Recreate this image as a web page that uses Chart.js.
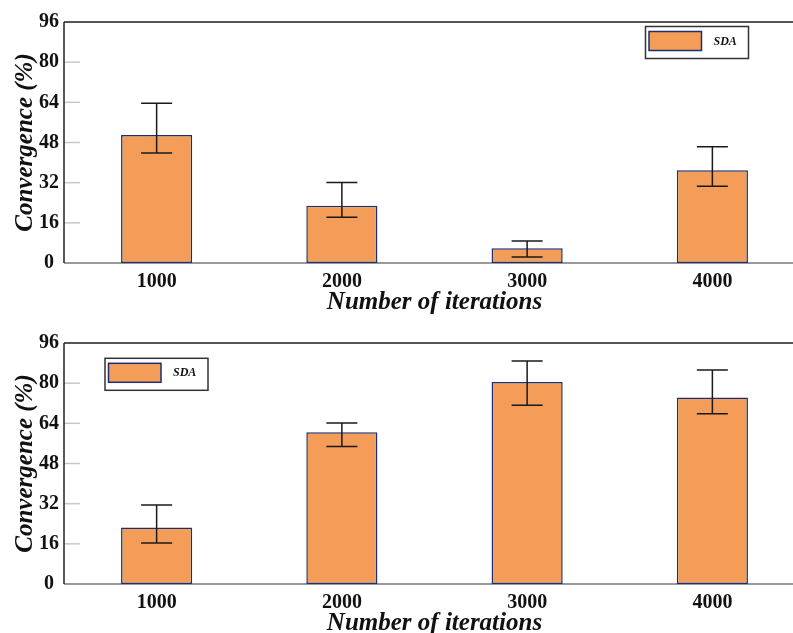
<!DOCTYPE html>
<html>
<head>
<meta charset="utf-8">
<script src="https://cdn.jsdelivr.net/npm/chart.js@4.4.1/dist/chart.umd.min.js"></script>
<style>
  html, body { margin: 0; padding: 0; background: #fff; overflow: hidden; }
  .wrap { position: absolute; left: 0; width: 793px; height: 316px; overflow: hidden; }
  canvas { display: block; }
</style>
</head>
<body>
<div class="wrap" style="top:0"><canvas id="topChart" width="808" height="316"></canvas></div>
<div class="wrap" style="top:321px"><canvas id="bottomChart" width="808" height="316"></canvas></div>
<script>
const iterations = ["1000", "2000", "3000", "4000"];
const yTicks = [0, 16, 32, 48, 64, 80, 96];

// upper panel
const topValues = [51, 22.8, 5.9, 36.9];
const topErrHigh = [63.6, 32.1, 8.8, 46.3];
const topErrLow = [43.8, 18.2, 2.4, 30.6];

// lower panel
const bottomValues = [22.5, 60.4, 80.5, 74.3];
const bottomErrHigh = [31.5, 64.1, 88.8, 85.2];
const bottomErrLow = [16.3, 54.8, 71.2, 67.8];

const serif = "'Liberation Serif', 'Times New Roman', serif";
const barFill = "#f49d58";
const barEdge = "#1c2f6e";

// inner tick marks + frame lines
const framePlugin = {
  id: "frame",
  beforeDatasetsDraw(chart) {
    const ctx = chart.ctx;
    const area = chart.chartArea;
    const yScale = chart.scales.y;
    ctx.save();
    ctx.strokeStyle = "#c8c8c8";
    ctx.lineWidth = 1.5;
    yScale.ticks.forEach(t => {
      if (t.value === 0 || t.value === 96) return;
      const y = yScale.getPixelForValue(t.value);
      ctx.beginPath();
      ctx.moveTo(area.left, y);
      ctx.lineTo(area.left + 16, y);
      ctx.stroke();
    });
    ctx.strokeStyle = "#555";
    ctx.lineWidth = 2;
    ctx.beginPath();
    ctx.moveTo(area.left, area.top);
    ctx.lineTo(area.right, area.top);
    ctx.stroke();
    ctx.strokeStyle = "#777";
    ctx.lineWidth = 1.5;
    ctx.beginPath();
    ctx.moveTo(area.left, area.bottom);
    ctx.lineTo(area.right, area.bottom);
    ctx.stroke();
    ctx.strokeStyle = "#222";
    ctx.beginPath();
    ctx.moveTo(area.left, area.top);
    ctx.lineTo(area.left, area.bottom);
    ctx.stroke();
    ctx.restore();
  }
};

const errorBarPlugin = {
  id: "errorBars",
  afterDatasetsDraw(chart) {
    const ctx = chart.ctx;
    const yScale = chart.scales.y;
    ctx.save();
    ctx.strokeStyle = "#1a1a1a";
    ctx.lineWidth = 1.5;
    chart.data.datasets.forEach((ds, di) => {
      const meta = chart.getDatasetMeta(di);
      meta.data.forEach((bar, i) => {
        const yHigh = yScale.getPixelForValue(ds.errorHigh[i]);
        const yLow = yScale.getPixelForValue(ds.errorLow[i]);
        const half = 15.5;
        ctx.beginPath();
        ctx.moveTo(bar.x, yHigh);
        ctx.lineTo(bar.x, yLow);
        ctx.moveTo(bar.x - half, yHigh);
        ctx.lineTo(bar.x + half, yHigh);
        ctx.moveTo(bar.x - half, yLow);
        ctx.lineTo(bar.x + half, yLow);
        ctx.stroke();
      });
    });
    ctx.restore();
  }
};

const boxLegendPlugin = {
  id: "boxLegend",
  afterDraw(chart, args, opts) {
    const ctx = chart.ctx;
    const ds = chart.data.datasets[0];
    ctx.save();
    ctx.fillStyle = "#fff";
    ctx.fillRect(opts.x, opts.y, 103, 32);
    ctx.strokeStyle = "#333";
    ctx.lineWidth = 1.5;
    ctx.strokeRect(opts.x, opts.y, 103, 32);
    ctx.fillStyle = ds.backgroundColor;
    ctx.fillRect(opts.x + 3.5, opts.y + 5, 52.5, 19);
    ctx.strokeStyle = ds.borderColor;
    ctx.lineWidth = 1.5;
    ctx.strokeRect(opts.x + 3.5, opts.y + 5, 52.5, 19);
    ctx.fillStyle = "#111";
    ctx.font = "italic bold 12px " + serif;
    ctx.textBaseline = "middle";
    ctx.fillText(ds.label, opts.x + 68, opts.y + 15);
    ctx.restore();
  }
};

function makeChart(id, values, errHigh, errLow, legendX, legendY) {
  const ctx = document.getElementById(id).getContext("2d");
  return new Chart(ctx, {
    type: "bar",
    data: {
      labels: iterations,
      datasets: [{
        label: "SDA",
        data: values,
        errorHigh: errHigh,
        errorLow: errLow,
        backgroundColor: barFill,
        borderColor: barEdge,
        borderWidth: 1.5,
        borderSkipped: false,
        categoryPercentage: 1,
        barPercentage: 0.384
      }]
    },
    options: {
      responsive: false,
      animation: false,
      devicePixelRatio: 1,
      layout: { padding: { top: 22, right: 3, bottom: 0, left: 0 } },
      plugins: {
        legend: { display: false },
        tooltip: { enabled: false },
        boxLegend: { x: legendX, y: legendY }
      },
      scales: {
        x: {
          grid: { display: false, drawTicks: false },
          border: { display: false },
          ticks: { color: "#111", padding: 7, font: { family: serif, size: 20, weight: "bold" } },
          title: {
            display: true,
            text: "Number of iterations",
            color: "#111",
            padding: { top: 0, bottom: 1 },
            font: { family: serif, size: 25, weight: "bold", style: "italic", lineHeight: 1 }
          },
          afterFit(scale) { scale.height = 53; }
        },
        y: {
          min: 0,
          max: 96,
          grid: { display: false, drawTicks: false },
          border: { display: false },
          afterBuildTicks(scale) { scale.ticks = yTicks.map(v => ({ value: v })); },
          ticks: {
            color: "#111",
            padding: 5,
            crossAlign: "center",
            font: { family: serif, size: 20, weight: "bold" }
          },
          title: {
            display: true,
            text: "Convergence (%)",
            color: "#111",
            padding: { top: 13, bottom: 0 },
            font: { family: serif, size: 25, weight: "bold", style: "italic", lineHeight: 1 }
          },
          afterFit(scale) { scale.width = 64; }
        }
      }
    },
    plugins: [framePlugin, errorBarPlugin, boxLegendPlugin]
  });
}

makeChart("topChart", topValues, topErrHigh, topErrLow, 645.5, 26.5);
makeChart("bottomChart", bottomValues, bottomErrHigh, bottomErrLow, 105, 37.3);
</script>
</body>
</html>
